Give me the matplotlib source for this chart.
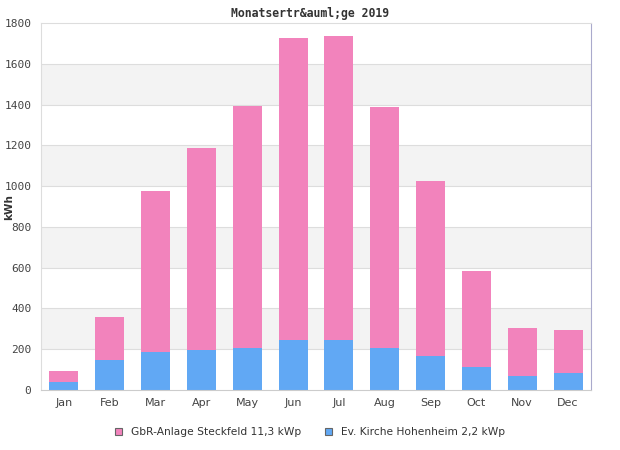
import numpy as np
import matplotlib
matplotlib.use('Agg')
import matplotlib.pyplot as plt
from matplotlib.patches import Patch

# Monthly yields 2019 (kWh)
months = ['Jan', 'Feb', 'Mar', 'Apr', 'May', 'Jun', 'Jul', 'Aug', 'Sep', 'Oct', 'Nov', 'Dec']
kirche = [40, 147, 188, 198, 206, 245, 245, 206, 167, 113, 69, 83]
totals = [93, 358, 976, 1187, 1393, 1726, 1736, 1388, 1025, 584, 304, 294]
steckfeld = [t - k for t, k in zip(totals, kirche)]
yticks = [0, 200, 400, 600, 800, 1000, 1200, 1400, 1600, 1800]

pink = '#f283bc'
blue = '#61a8f4'

fig = plt.figure(figsize=(6.2, 4.5), dpi=100)
ax = fig.add_axes([41 / 620, 1 - 390 / 450, 550 / 620, 367 / 450])

# alternating background bands
for lo in range(200, 1800, 400):
    ax.axhspan(lo, lo + 200, color='#f3f3f3', zorder=0, lw=0)
for y in yticks[1:-1]:
    ax.axhline(y, color='#dddddd', lw=0.8, zorder=1)

x = np.arange(len(months))
ax.bar(x, kirche, 0.63, color=blue, zorder=2)
ax.bar(x, steckfeld, 0.63, bottom=kirche, color=pink, zorder=2)

ax.set_xlim(-0.5, len(months) - 0.5)
ax.set_ylim(0, 1800)
ax.set_yticks(yticks)
ax.set_yticklabels([str(v) for v in yticks], family='DejaVu Sans Mono', fontsize=8, color='#444444')
ax.set_xticks(x)
ax.set_xticklabels(months, fontsize=8, color='#444444')
ax.tick_params(length=0, pad=6)
ax.tick_params(axis='y', pad=7)

for side in ['left', 'top']:
    ax.spines[side].set_color('#dddddd')
ax.spines['bottom'].set_color('#cccccc')
ax.spines['right'].set_color('#aaaacc')

fig.text(9 / 620, 1 - 207 / 450, 'kWh', rotation=90, ha='center', va='center',
         fontsize=7.5, fontweight='bold', color='#333333')
fig.text(0.5, 1 - 13 / 450, 'Monatsertr&auml;ge 2019', ha='center', va='center',
         family='DejaVu Sans Mono', fontweight='bold', fontsize=8.3, color='#333333')

handles = [Patch(facecolor=pink, edgecolor='#666666', lw=0.8),
           Patch(facecolor=blue, edgecolor='#666666', lw=0.8)]
fig.legend(handles, ['GbR-Anlage Steckfeld 11,3 kWp', 'Ev. Kirche Hohenheim 2,2 kWp'],
           loc='center', bbox_to_anchor=(0.5, 1 - 432 / 450), ncol=2, frameon=False,
           fontsize=7.7, handlelength=0.7, handleheight=0.7, columnspacing=2.2,
           labelcolor='#333333')

fig.savefig('out.png', dpi=100)
